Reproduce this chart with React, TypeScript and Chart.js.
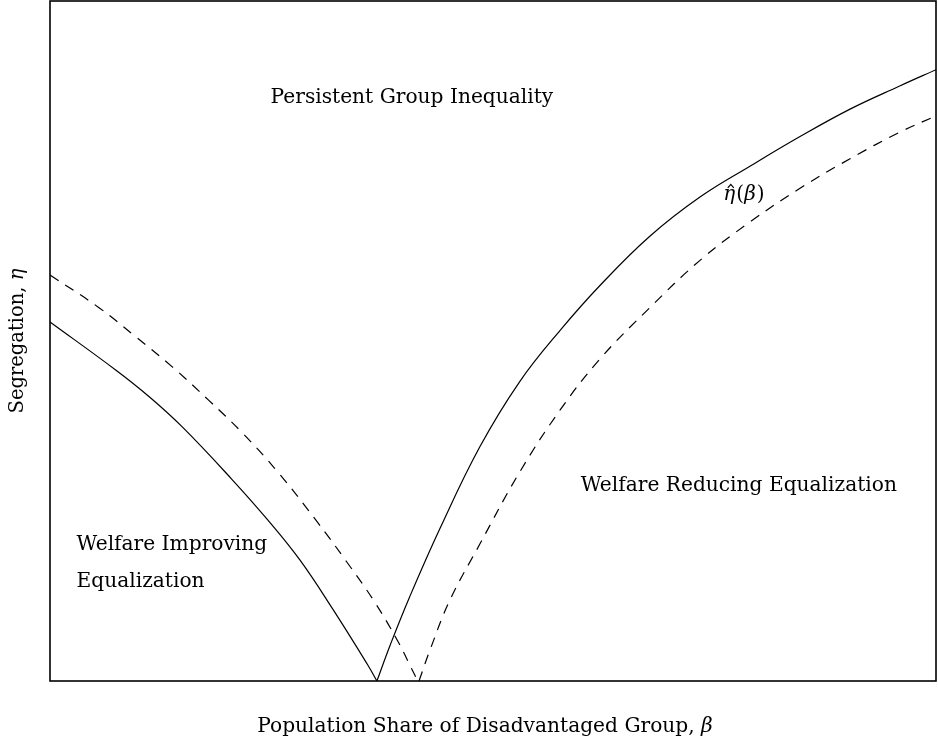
import React, { useEffect, useRef } from "react";
import { Chart, registerables } from "chart.js";

Chart.register(...registerables);

// Solid boundary, left branch (beta, eta)
const solidLeftBeta = [0, 0.0745, 0.112, 0.149, 0.205, 0.245, 0.282, 0.319, 0.358, 0.369];
const solidLeftEta = [0.528, 0.457, 0.418, 0.374, 0.297, 0.238, 0.178, 0.106, 0.025, 0];

// Solid boundary, right branch  (eta-hat(beta))
const solidRightBeta = [0.369, 0.384, 0.406, 0.44, 0.485, 0.53, 0.576, 0.621, 0.677, 0.734, 0.79, 0.847, 0.903, 0.959, 1.0];
const solidRightEta = [0, 0.053, 0.124, 0.224, 0.344, 0.44, 0.516, 0.582, 0.654, 0.712, 0.757, 0.801, 0.841, 0.875, 0.899];

// Dashed curve, left branch
const dashedLeftBeta = [0, 0.0553, 0.097, 0.138, 0.179, 0.217, 0.258, 0.301, 0.335, 0.365, 0.392, 0.407, 0.415];
const dashedLeftEta = [0.597, 0.549, 0.506, 0.462, 0.413, 0.365, 0.306, 0.235, 0.175, 0.119, 0.06, 0.021, 0];

// Dashed curve, right branch
const dashedRightBeta = [0.4165, 0.429, 0.451, 0.485, 0.53, 0.576, 0.621, 0.677, 0.734, 0.79, 0.847, 0.903, 0.959, 1.0];
const dashedRightEta = [0, 0.046, 0.118, 0.201, 0.307, 0.399, 0.474, 0.549, 0.619, 0.675, 0.725, 0.768, 0.807, 0.831];

const xAxisTitle = "Population Share of Disadvantaged Group, ";
const yAxisTitle = "Segregation, ";

// Region labels: [text, beta, eta]
const regionLabels: [string, number, number][] = [
  ["Persistent Group Inequality", 0.249, 0.857],
  ["Welfare Improving", 0.03, 0.2],
  ["Equalization", 0.03, 0.146],
  ["Welfare Reducing Equalization", 0.599, 0.287],
];
const curveLabelPos: [number, number] = [0.76, 0.715];

const SERIF = "'DejaVu Serif', serif";
const FS = 20.2;

const toPoints = (xs: number[], ys: number[]) => xs.map((x, i) => ({ x, y: ys[i] }));

const annotations = {
  id: "annotations",
  afterDatasetsDraw(chart: any) {
    const { ctx, chartArea, scales } = chart;
    const xs = scales.x;
    const ys = scales.y;
    ctx.save();
    // frame
    ctx.strokeStyle = "#000";
    ctx.lineWidth = 1.6;
    ctx.strokeRect(chartArea.left, chartArea.top, chartArea.right - chartArea.left, chartArea.bottom - chartArea.top);

    ctx.fillStyle = "#000";
    ctx.textBaseline = "middle";
    ctx.textAlign = "left";
    ctx.font = `${FS}px ${SERIF}`;
    for (const [t, bx, ey] of regionLabels) {
      ctx.fillText(t, xs.getPixelForValue(bx), ys.getPixelForValue(ey));
    }

    // curve label eta-hat(beta)
    let px = xs.getPixelForValue(curveLabelPos[0]);
    const py = ys.getPixelForValue(curveLabelPos[1]);
    const it = `italic 20px ${SERIF}`;
    const up = `20px ${SERIF}`;
    ctx.font = it;
    const etaW = ctx.measureText("η").width;
    ctx.fillText("η", px, py);
    // hat
    ctx.beginPath();
    ctx.lineWidth = 1.2;
    const hx = px + etaW * 0.62;
    ctx.moveTo(hx - 3, py - 7);
    ctx.lineTo(hx, py - 10.5);
    ctx.lineTo(hx + 3, py - 7);
    ctx.stroke();
    px += etaW + 1;
    ctx.font = up;
    ctx.fillText("(", px, py);
    px += ctx.measureText("(").width;
    ctx.font = it;
    ctx.fillText("β", px, py);
    px += ctx.measureText("β").width + 1;
    ctx.font = up;
    ctx.fillText(")", px, py);

    // x axis title
    ctx.font = `${FS}px ${SERIF}`;
    const w1 = ctx.measureText(xAxisTitle).width;
    ctx.font = `italic ${FS}px ${SERIF}`;
    const w2 = ctx.measureText("β").width;
    const cx = (chartArea.left + chartArea.right) / 2 - 8;
    const tx = cx - (w1 + w2) / 2;
    const ty = 727;
    ctx.font = `${FS}px ${SERIF}`;
    ctx.fillText(xAxisTitle, tx, ty);
    ctx.font = `italic ${FS}px ${SERIF}`;
    ctx.fillText("β", tx + w1, ty);

    // y axis title
    ctx.save();
    ctx.translate(18, (chartArea.top + chartArea.bottom) / 2);
    ctx.rotate(-Math.PI / 2);
    const YF = 19.5;
    ctx.font = `${YF}px ${SERIF}`;
    const v1 = ctx.measureText(yAxisTitle).width;
    ctx.font = `italic ${YF}px ${SERIF}`;
    const v2 = ctx.measureText("η").width;
    const sx = -(v1 + v2) / 2;
    ctx.font = `${YF}px ${SERIF}`;
    ctx.fillText(yAxisTitle, sx, 0);
    ctx.font = `italic ${YF}px ${SERIF}`;
    ctx.fillText("η", sx + v1, 0);
    ctx.restore();

    ctx.restore();
  },
};

export default function App() {
  const ref = useRef<HTMLCanvasElement | null>(null);
  useEffect(() => {
    document.body.style.margin = "0";
    const canvas = ref.current;
    if (!canvas) return;
    const base = {
      borderColor: "#000",
      borderWidth: 1.2,
      pointRadius: 0,
      fill: false,
      tension: 0.4,
    };
    const chart = new Chart(canvas, {
      type: "line",
      data: {
        datasets: [
          { ...base, label: "solid left", data: toPoints(solidLeftBeta, solidLeftEta) },
          { ...base, label: "solid right", data: toPoints(solidRightBeta, solidRightEta) },
          { ...base, label: "dashed left", data: toPoints(dashedLeftBeta, dashedLeftEta), borderDash: [10, 8] },
          { ...base, label: "dashed right", data: toPoints(dashedRightBeta, dashedRightEta), borderDash: [10, 8] },
        ],
      },
      options: {
        animation: false,
        responsive: false,
        events: [],
        layout: { padding: { left: 50, right: 2, top: 1, bottom: 57 } },
        plugins: { legend: { display: false }, tooltip: { enabled: false }, title: { display: false } },
        scales: {
          x: { type: "linear", min: 0, max: 1, display: false },
          y: { type: "linear", min: 0, max: 1, display: false },
        },
      },
      plugins: [annotations],
    });
    return () => chart.destroy();
  }, []);
  return (
    <div style={{ width: 938, height: 738, background: "#fff" }}>
      <canvas ref={ref} width={938} height={738} />
    </div>
  );
}
